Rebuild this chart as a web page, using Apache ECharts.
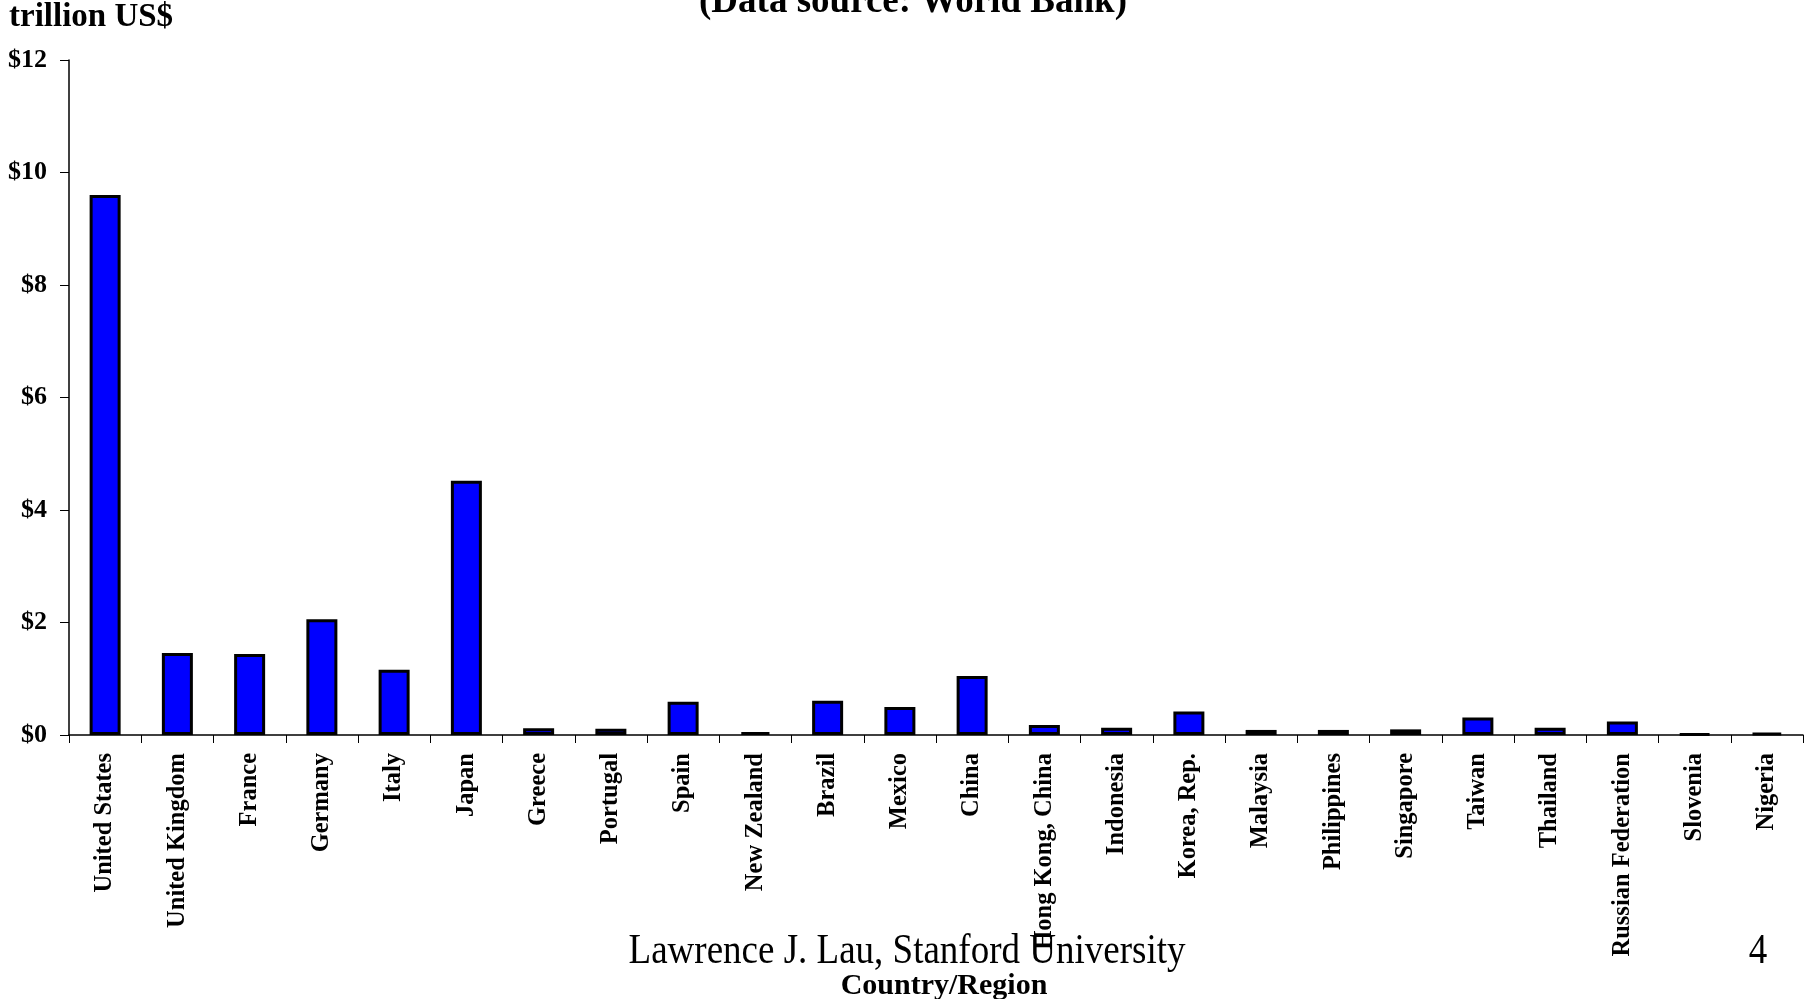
<!DOCTYPE html>
<html>
<head>
<meta charset="utf-8">
<script src="https://cdn.jsdelivr.net/npm/echarts@6/dist/echarts.min.js"></script>
<style>
  html, body { margin: 0; padding: 0; background: #fff; }
  #chart { width: 1806px; height: 999px; }
</style>
</head>
<body>
<div id="chart"></div>
<script>
// GDP by country/region, trillion US$
const countries = [
  'United States', 'United Kingdom', 'France', 'Germany', 'Italy', 'Japan',
  'Greece', 'Portugal', 'Spain', 'New Zealand', 'Brazil', 'Mexico', 'China',
  'Hong Kong, China', 'Indonesia', 'Korea, Rep.', 'Malaysia', 'Philippines',
  'Singapore', 'Taiwan', 'Thailand', 'Russian Federation', 'Slovenia', 'Nigeria'
];
const gdpTrillion = [
  9.60, 1.46, 1.44, 2.06, 1.16, 4.52,
  0.12, 0.11, 0.59, 0.05, 0.61, 0.50, 1.05,
  0.18, 0.13, 0.42, 0.09, 0.09,
  0.10, 0.31, 0.13, 0.24, 0.02, 0.04
];
const yTicks = [0, 2, 4, 6, 8, 10, 12];

const serif = '"Liberation Serif", "DejaVu Serif", serif';
const chart = echarts.init(document.getElementById('chart'));

chart.setOption({
  animation: false,
  backgroundColor: '#ffffff',
  grid: { left: 69, right: 3, top: 60, bottom: 264, containLabel: false, outerBoundsMode: 'none' },
  xAxis: {
    type: 'category',
    data: countries,
    boundaryGap: true,
    axisLine: { lineStyle: { color: '#000', width: 1.5 } },
    axisTick: { show: true, alignWithLabel: false, length: 8, lineStyle: { color: '#000' } },
    axisLabel: {
      interval: 0,
      rotate: 90,
      margin: 18,
      fontFamily: serif,
      fontWeight: 'bold',
      fontSize: 24.5,
      color: '#000'
    }
  },
  yAxis: {
    type: 'value',
    min: yTicks[0],
    max: yTicks[yTicks.length - 1],
    interval: 2,
    splitLine: { show: false },
    axisLine: { show: true, lineStyle: { color: '#000', width: 1.5 } },
    axisTick: { show: true, length: 9, lineStyle: { color: '#000' } },
    axisLabel: {
      margin: 22,
      formatter: v => '$' + v,
      fontFamily: serif,
      fontWeight: 'bold',
      fontSize: 26,
      color: '#000'
    }
  },
  series: [{
    type: 'bar',
    data: gdpTrillion,
    barWidth: 31,
    itemStyle: { color: '#0000ff', borderColor: '#000', borderWidth: 3 }
  }],
  graphic: [
    {
      type: 'text', x: 9, y: 17,
      style: { text: 'trillion US$', font: 'bold 33px ' + serif, fill: '#000', verticalAlign: 'middle' }
    },
    {
      type: 'text', x: 913, y: 2,
      style: { text: '(Data source: World Bank)', font: 'bold 37px ' + serif, fill: '#000', align: 'center', verticalAlign: 'middle' }
    },
    {
      type: 'text', x: 907, y: 952, scaleY: 1.15,
      style: { text: 'Lawrence J. Lau, Stanford University', font: '37px ' + serif, fill: '#000', align: 'center', verticalAlign: 'middle' }
    },
    {
      type: 'text', x: 1758, y: 952, scaleY: 1.15,
      style: { text: '4', font: '37px ' + serif, fill: '#000', align: 'center', verticalAlign: 'middle' }
    },
    {
      type: 'text', x: 944, y: 986,
      style: { text: 'Country/Region', font: 'bold 30px ' + serif, fill: '#000', align: 'center', verticalAlign: 'middle' }
    }
  ]
});
</script>
</body>
</html>
